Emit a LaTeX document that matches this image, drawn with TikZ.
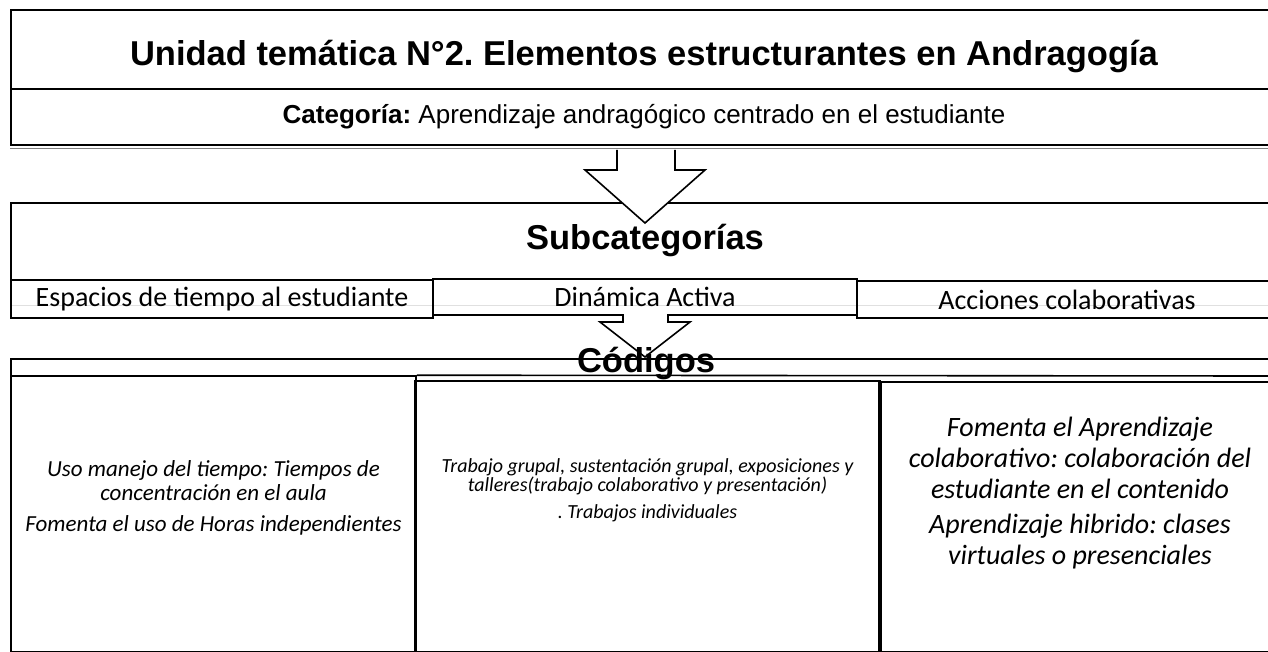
\documentclass[tikz,border=0pt]{standalone}
\usepackage{fontspec}
\setmainfont{Liberation Sans}
\newfontfamily\carlito{Carlito}
\frenchspacing
\begin{document}
\begin{tikzpicture}[x=1pt,y=-1pt,line width=1.6pt,
    titulo/.style={font=\fontsize{34.5}{38}\selectfont\bfseries},
    categ/.style={font=\fontsize{26}{28}\selectfont},
    subtit/.style={font=\fontsize{34.5}{38}\selectfont\bfseries},
    celda/.style={draw,inner sep=0pt,font=\carlito\fontsize{28}{30}\selectfont},
    cod/.style n args={2}{inner sep=0pt,align=center,font=\carlito\itshape\fontsize{#1}{#2}\selectfont},
    flecha/.style={draw,fill=white}]
\useasboundingbox (0,0) rectangle (1268,652);
% unidad tematica
\draw (1268,10) -- (11,10) -- (11,145) -- (1268,145);
\draw (11,89) -- (1268,89);
\draw[gray,line width=1.2pt] (10,148.5) -- (1268,148.5);
\node[titulo] (unidad) at (644,57) {Unidad temática N°2. Elementos estructurantes en Andragogía};
\node[categ] (categoria) at (644,117) {\textbf{Categoría:} Aprendizaje andragógico centrado en el estudiante};
% subcategorias
\draw (1268,203) -- (11,203) -- (11,299);
\node[subtit] (subcategorias) at (645,241) {Subcategorías};
\draw[black!12,line width=1pt] (11,305) -- (1268,305);
\node[celda,minimum width=422pt,minimum height=38pt] (espacios) at (222,299) {Espacios de tiempo al estudiante};
\node[celda,minimum width=420pt,minimum height=37pt] (acciones) at (1067,299.5) {Acciones colaborativas};
\node[celda,minimum width=424pt,minimum height=36pt] (dinamica) at (645,297) {Dinámica Activa};
\draw[flecha] (617,150) -- (617,170) -- (585,170) -- (645,223) -- (705,170) -- (675,170) -- (675,150);
% codigos
\draw (1268,359) -- (11,359) -- (11,377);
\node[draw,minimum width=405pt,minimum height=276pt] (uso) at (213.5,514) {};
\node[draw,minimum width=465pt,minimum height=271pt] (trabajo) at (647.5,516.5) {};
\node[draw,minimum width=398pt,minimum height=270pt] (fomenta) at (1080,517) {};
\draw (uso.north east) -- (1268,376);
\draw[line width=3.5pt] (fomenta.north west) -- (fomenta.south west);
\node[cod={23}{24}] (uso-txt) at ([yshift=16pt]uso.center)
  {Uso manejo del tiempo: Tiempos de\\ concentración en el aula\\[7pt] Fomenta el uso de Horas independientes};
\node[cod={20}{19}] (trabajo-txt) at ([yshift=26pt]trabajo.center)
  {Trabajo grupal, sustentación grupal, exposiciones y\\ talleres(trabajo colaborativo y presentación)\\[8pt] . Trabajos individuales};
\node[cod={28}{31}] (fomenta-txt) at ([yshift=24pt]fomenta.center)
  {Fomenta el Aprendizaje\\ colaborativo: colaboración del\\ estudiante en el contenido\\[4pt] Aprendizaje hibrido: clases\\ virtuales o presenciales};
\draw[flecha] (623,314) -- (623,322) -- (600,322) -- (645,357) -- (690,322) -- (668,322) -- (668,314);
\node[subtit] (codigos) at (646,364) {Códigos};
\end{tikzpicture}
\end{document}
